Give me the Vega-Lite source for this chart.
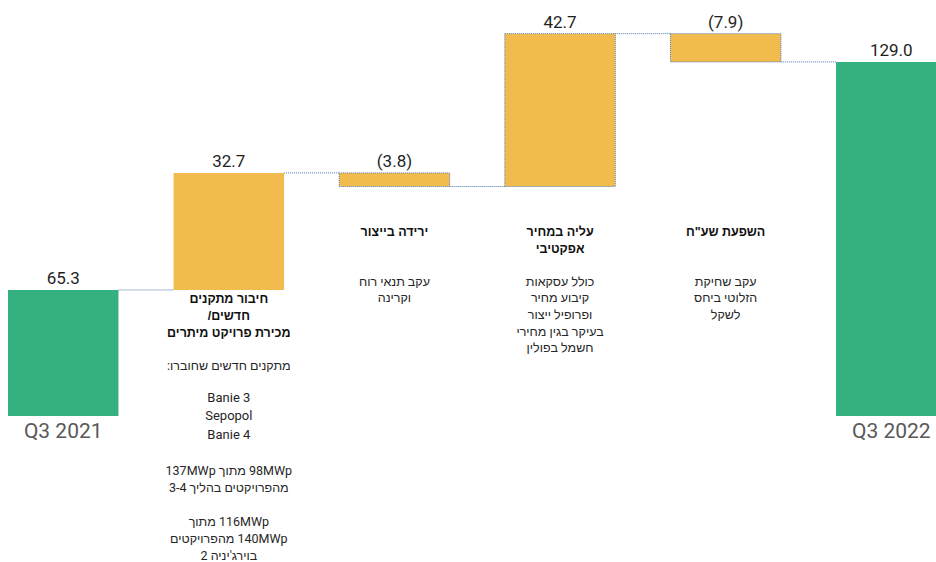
{
  "$schema": "https://vega.github.io/schema/vega-lite/v6.json",
  "width": 936,
  "height": 562,
  "autosize": {"type": "none"},
  "padding": 0,
  "background": "white",
  "view": {"stroke": null},
  "config": {"font": "Roboto, Liberation Sans"},
  "datasets": {
    "bars": [
      {"cat": "Q3 2021", "kind": "total", "start": 0, "end": 65.3, "label": "65.3", "next": "new"},
      {"cat": "new", "kind": "delta", "start": 65.3, "end": 98.0, "label": "32.7", "next": "prod"},
      {"cat": "prod", "kind": "delta", "start": 98.0, "end": 94.2, "label": "(3.8)", "next": "price"},
      {"cat": "price", "kind": "delta", "start": 94.2, "end": 136.9, "label": "42.7", "next": "fx"},
      {"cat": "fx", "kind": "delta", "start": 136.9, "end": 129.0, "label": "(7.9)", "next": "Q3 2022"},
      {"cat": "Q3 2022", "kind": "total", "start": 0, "end": 129.0, "label": "129.0", "next": null}
    ],
    "notes": [
      {"cat": "new", "start": 65.3, "part": "title", "text": "\u202bחיבור מתקנים\u202c\n\u202bחדשים/\u202c\n\u202bמכירת פרויקט מיתרים\u202c"},
      {"cat": "new", "start": 65.3, "part": "b1", "text": "\u202bמתקנים חדשים שחוברו:\u202c"},
      {"cat": "new", "start": 65.3, "part": "b2", "text": "Banie 3\nSepopol\nBanie 4"},
      {"cat": "new", "start": 65.3, "part": "b3", "text": "\u202b98MWp מתוך 137MWp\u202c\n\u202bמהפרויקטים בהליך 3-4\u202c"},
      {"cat": "new", "start": 65.3, "part": "b4", "text": "\u202b116MWp מתוך\u202c\n\u202b140MWp מהפרויקטים\u202c\n\u202bבוירג'יניה 2\u202c"},
      {"cat": "prod", "start": 98.0, "part": "title", "text": "\u202bירידה בייצור\u202c"},
      {"cat": "prod", "start": 98.0, "part": "body", "text": "\u202bעקב תנאי רוח\u202c\n\u202bוקרינה\u202c"},
      {"cat": "price", "start": 94.2, "part": "title", "text": "\u202bעליה במחיר\u202c\n\u202bאפקטיבי\u202c"},
      {"cat": "price", "start": 94.2, "part": "body", "text": "\u202bכולל עסקאות\u202c\n\u202bקיבוע מחיר\u202c\n\u202bופרופיל ייצור\u202c\n\u202bבעיקר בגין מחירי\u202c\n\u202bחשמל בפולין\u202c"},
      {"cat": "fx", "start": 136.9, "part": "title", "text": "\u202bהשפעת שע\"ח\u202c"},
      {"cat": "fx", "start": 136.9, "part": "body", "text": "\u202bעקב שחיקת\u202c\n\u202bהזלוטי ביחס\u202c\n\u202bלשקל\u202c"}
    ]
  },
  "layer": [
    {
      "data": {"name": "bars"},
      "mark": {"type": "bar", "strokeDash": [1, 1], "strokeWidth": 1},
      "encoding": {
        "x": {"field": "cat", "type": "nominal", "sort": null, "axis": null,
              "scale": {"range": [8, 946.5], "paddingInner": 0.333, "paddingOuter": 0}},
        "y": {"field": "start", "type": "quantitative", "axis": null,
              "scale": {"domain": [30.1, 146.3], "range": [416, 0], "clamp": true, "nice": false, "zero": false}},
        "y2": {"field": "end"},
        "color": {"field": "kind", "type": "nominal", "legend": null,
                  "scale": {"domain": ["total", "delta"], "range": ["#34B17E", "#F2BB4D"]}},
        "stroke": {"condition": {"test": "indexof(['prod','price','fx'], datum.cat) >= 0", "value": "#4C79B0"}, "value": null}
      }
    },
    {
      "data": {"name": "bars"},
      "transform": [{"filter": "datum.next != null"}],
      "mark": {"type": "rule", "strokeDash": [1, 1], "strokeWidth": 1, "color": "#4C79B0"},
      "encoding": {
        "x": {"field": "cat", "type": "nominal", "sort": null, "bandPosition": 1},
        "x2": {"field": "next", "bandPosition": 0},
        "y": {"field": "end", "type": "quantitative"}
      }
    },
    {
      "data": {"name": "bars"},
      "transform": [{"filter": "datum.end >= datum.start"}],
      "mark": {"type": "text", "fontSize": 17, "baseline": "alphabetic", "dy": -6, "color": "#1e1e1e"},
      "encoding": {
        "x": {"field": "cat", "type": "nominal", "sort": null},
        "y": {"field": "end", "type": "quantitative"},
        "text": {"field": "label"}
      }
    },
    {
      "data": {"name": "bars"},
      "transform": [{"filter": "datum.end < datum.start"}],
      "mark": {"type": "text", "fontSize": 17, "baseline": "alphabetic", "dy": -6, "color": "#1e1e1e"},
      "encoding": {
        "x": {"field": "cat", "type": "nominal", "sort": null},
        "y": {"field": "start", "type": "quantitative"},
        "text": {"field": "label"}
      }
    },
    {
      "data": {"name": "bars"},
      "transform": [{"filter": "datum.kind == 'total'"}],
      "mark": {"type": "text", "fontSize": 21, "baseline": "top", "dy": 5, "color": "#595959"},
      "encoding": {
        "x": {"field": "cat", "type": "nominal", "sort": null},
        "y": {"field": "start", "type": "quantitative"},
        "text": {"field": "cat"}
      }
    },
    {
      "data": {"name": "notes"},
      "transform": [{"filter": "datum.cat == 'new' && datum.part == 'title'"}],
      "mark": {"type": "text", "fontSize": 12.5, "fontWeight": "bold", "baseline": "top", "lineBreak": "\n", "lineHeight": 17, "dy": 3, "color": "#111111", "font": "Liberation Sans"},
      "encoding": {
        "x": {"field": "cat", "type": "nominal", "sort": null},
        "y": {"field": "start", "type": "quantitative"},
        "text": {"field": "text"}
      }
    },
    {
      "data": {"name": "notes"},
      "transform": [{"filter": "datum.part == 'b1'"}],
      "mark": {"type": "text", "fontSize": 12.5, "baseline": "top", "lineBreak": "\n", "lineHeight": 17, "dy": 70, "color": "#262626"},
      "encoding": {
        "x": {"field": "cat", "type": "nominal", "sort": null},
        "y": {"field": "start", "type": "quantitative"},
        "text": {"field": "text"}
      }
    },
    {
      "data": {"name": "notes"},
      "transform": [{"filter": "datum.part == 'b2'"}],
      "mark": {"type": "text", "fontSize": 13, "baseline": "top", "lineBreak": "\n", "lineHeight": 18.5, "dy": 102, "color": "#262626"},
      "encoding": {
        "x": {"field": "cat", "type": "nominal", "sort": null},
        "y": {"field": "start", "type": "quantitative"},
        "text": {"field": "text"}
      }
    },
    {
      "data": {"name": "notes"},
      "transform": [{"filter": "datum.part == 'b3'"}],
      "mark": {"type": "text", "fontSize": 12.5, "baseline": "top", "lineBreak": "\n", "lineHeight": 17, "dy": 175, "color": "#262626"},
      "encoding": {
        "x": {"field": "cat", "type": "nominal", "sort": null},
        "y": {"field": "start", "type": "quantitative"},
        "text": {"field": "text"}
      }
    },
    {
      "data": {"name": "notes"},
      "transform": [{"filter": "datum.part == 'b4'"}],
      "mark": {"type": "text", "fontSize": 12.5, "baseline": "top", "lineBreak": "\n", "lineHeight": 17, "dy": 226, "color": "#262626"},
      "encoding": {
        "x": {"field": "cat", "type": "nominal", "sort": null},
        "y": {"field": "start", "type": "quantitative"},
        "text": {"field": "text"}
      }
    },
    {
      "data": {"name": "notes"},
      "transform": [{"filter": "datum.cat != 'new' && datum.part == 'title'"}],
      "mark": {"type": "text", "fontSize": 12.5, "fontWeight": "bold", "baseline": "top", "lineBreak": "\n", "lineHeight": 17, "color": "#111111", "font": "Liberation Sans"},
      "encoding": {
        "x": {"field": "cat", "type": "nominal", "sort": null},
        "y": {"datum": 83.2, "type": "quantitative"},
        "text": {"field": "text"}
      }
    },
    {
      "data": {"name": "notes"},
      "transform": [{"filter": "datum.part == 'body'"}],
      "mark": {"type": "text", "fontSize": 12.5, "baseline": "top", "lineBreak": "\n", "lineHeight": 16.6, "dy": 50, "color": "#262626"},
      "encoding": {
        "x": {"field": "cat", "type": "nominal", "sort": null},
        "y": {"datum": 83.2, "type": "quantitative"},
        "text": {"field": "text"}
      }
    }
  ]
}
